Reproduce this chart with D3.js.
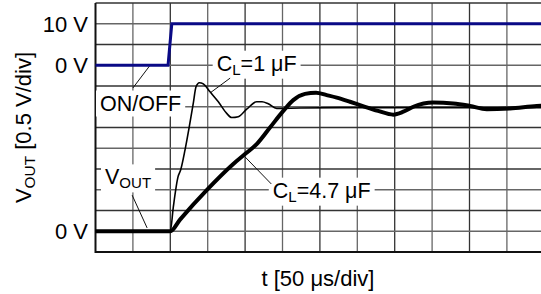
<!DOCTYPE html>
<html>
<head>
<meta charset="utf-8">
<script src="https://cdn.jsdelivr.net/npm/d3@7"></script>
<style>
  body { margin: 0; background: #fff; }
  svg { display: block; font-family: Arial, "Liberation Sans", sans-serif; }
</style>
</head>
<body>
<svg id="chart" width="541" height="294"></svg>
<script>
// time in µs (50 µs/div), voltages in V
const onOffT = [0, 97, 102, 600]
const onOffV = [0, 0, 10, 10]

const c1T = [0, 100, 104, 110.3, 113.9, 119.7, 125.4, 130.7, 134.4, 138.8, 144.1, 153.1, 164.2, 175.4, 182.1, 190.9, 202.1, 215.5, 222.6, 231, 242.2, 273.4, 340, 474, 600]
const c1V = [0, 0, 0.58, 1.31, 1.48, 1.96, 2.52, 3.08, 3.48, 3.58, 3.55, 3.36, 3.12, 2.84, 2.74, 2.76, 2.94, 3.12, 3.12, 3.07, 2.96, 2.97, 2.98, 2.98, 2.98]

const c47T = [0, 100, 113, 148.7, 184.2, 199.9, 215.5, 233.3, 251.1, 264.4, 280.1, 294.8, 309.1, 322.5, 340.2, 353.6, 377.7, 398.1, 411.5, 424.9, 451.6, 478.3, 500.7, 523, 554.1, 589.8, 600]
const c47V = [0, 0, 0.28, 0.99, 1.62, 1.86, 2.1, 2.5, 2.9, 3.16, 3.31, 3.34, 3.28, 3.22, 3.12, 3.04, 2.9, 2.81, 2.88, 3.0, 3.1, 3.08, 3.02, 2.94, 2.96, 3.02, 3.03]

const yTickLabels = ["10 V", "0 V", "0 V"]

const svg = d3.select("#chart")

// plot box: 12 x 12 divisions, right edge runs slightly past the picture
const x = d3.scaleLinear().domain([0, 600]).range([95.5, 544.3])
const yOut = d3.scaleLinear().domain([-0.5, 5.5]).range([252, 3])   // 0.5 V/div
const yOn = d3.scaleLinear().domain([-45, 15]).range([252, 3])      // 5 V/div

// grid
const grid = svg.append("g")
grid.selectAll("line.v")
    .data(d3.range(50, 601, 50))
    .join("line")
    .attr("x1", d => x(d)).attr("x2", d => x(d))
    .attr("y1", yOut(-0.5)).attr("y2", yOut(5.5))
    .attr("stroke", (d, i) => i % 2 ? "#333" : "#666")
    .attr("stroke-width", 1.3)
grid.selectAll("line.h")
    .data(d3.range(0, 12).map(i => -0.5 + i * 0.5).concat([5.5]))
    .join("line")
    .attr("x1", x(0)).attr("x2", x(600))
    .attr("y1", d => yOut(d)).attr("y2", d => yOut(d))
    .attr("stroke", (d, i) => i % 2 ? "#666" : "#333")
    .attr("stroke-width", 1.3)
// frame (left + bottom darker)
svg.append("path")
    .attr("d", `M${x(0)},${yOut(5.5)}V${yOut(-0.5)}H${x(600)}`)
    .attr("fill", "none").attr("stroke", "#111").attr("stroke-width", 2)

// annotations, placed in data units
const notes = [
    {parts: [["ON/OFF"]], t: 6, v: 3.09, from: [50, yOut.invert(88)], to: [73, yOut.invert(yOn(0))]},
    {parts: [["C"], ["L", "sub"], ["=1 μF"]], t: 162, v: 4.05, from: [180, 3.69], to: [153, 3.33]},
    {parts: [["V"], ["OUT", "sub"]], t: 12.7, v: 1.31, from: [49, 0.87], to: [69, 0.08]},
    {parts: [["C"], ["L", "sub"], ["=4.7 μF"]], t: 237, v: 0.99, from: [235, 1.14], to: [200, 1.79]},
]

const fs = 21.5
function addRich(sel, parts, size) {
    let shifted = false
    parts.forEach(p => {
        const sub = p[1] === "sub"
        const ts = sel.append("tspan").text(p[0])
        if (sub) { ts.attr("font-size", size * 0.7).attr("dy", 4); shifted = true }
        else if (shifted) { ts.attr("dy", -4); shifted = false }
    })
}

const boxG = svg.append("g")
const leadG = svg.append("g")
const traceG = svg.append("g")
const textG = svg.append("g")

notes.forEach(n => {
    const t = textG.append("text")
        .attr("x", x(n.t)).attr("y", yOut(n.v) + 7.5)
        .attr("font-size", fs)
    addRich(t, n.parts, fs)
    const b = t.node().getBBox()
    boxG.append("rect")
        .attr("x", b.x - 4).attr("y", b.y - 1)
        .attr("width", b.width + 8).attr("height", b.height + 2)
        .attr("fill", "#fff")
    leadG.append("line")
        .attr("x1", x(n.from[0])).attr("y1", yOut(n.from[1]))
        .attr("x2", x(n.to[0])).attr("y2", yOut(n.to[1]))
        .attr("stroke", "#111").attr("stroke-width", 1)
})

// traces
const lineOn = d3.line().x((d, i) => x(onOffT[i])).y(d => yOn(d))
const lineOut = T => d3.line().x((d, i) => x(T[i])).y(d => yOut(d)).curve(d3.curveMonotoneX)

traceG.append("path")
    .attr("d", lineOut(c1T)(c1V))
    .attr("fill", "none").attr("stroke", "#000").attr("stroke-width", 1.6)
traceG.append("path")
    .attr("d", lineOut(c47T)(c47V))
    .attr("fill", "none").attr("stroke", "#000").attr("stroke-width", 4)
    .attr("stroke-linejoin", "round")
traceG.append("path")
    .attr("d", lineOn(onOffV))
    .attr("fill", "none").attr("stroke", "#0a0a86").attr("stroke-width", 3)

// y tick labels
const tickPos = [yOn(10), yOn(0), yOut(0)]
svg.append("g").selectAll("text")
    .data(yTickLabels)
    .join("text")
    .attr("x", 88).attr("y", (d, i) => tickPos[i] + 8)
    .attr("text-anchor", "end")
    .attr("font-size", 22)
    .text(d => d)

// axis titles
const yt = svg.append("text")
    .attr("transform", `translate(31,${(yOut(-0.5) + yOut(5.5)) / 2}) rotate(-90)`)
    .attr("text-anchor", "middle")
    .attr("font-size", 22)
addRich(yt, [["V"], ["OUT", "sub"], [" [0.5 V/div]"]], 22)

svg.append("text")
    .attr("x", 318).attr("y", 286)
    .attr("text-anchor", "middle")
    .attr("font-size", 22)
    .text("t [50 μs/div]")
</script>
</body>
</html>
